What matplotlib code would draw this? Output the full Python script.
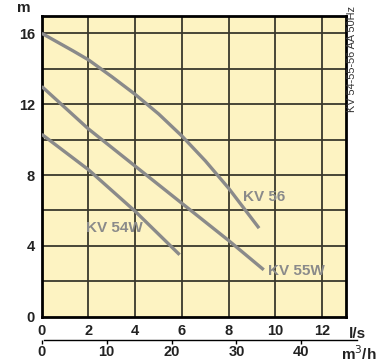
import matplotlib.pyplot as plt

# flow (l/s) and head (m)
q_56 = [0, 1.35, 2, 3, 4, 5, 6, 7, 8, 9.3]
h_56 = [16.0, 15.0, 14.5, 13.55, 12.55, 11.45, 10.2, 8.8, 7.25, 5.0]

q_55w = [0, 2, 4, 6, 8, 9.5]
h_55w = [13.0, 10.6, 8.5, 6.4, 4.3, 2.65]

q_54w = [0, 2, 4, 5.9]
h_54w = [10.3, 8.3, 5.95, 3.5]

labels = ["KV 56", "KV 55W", "KV 54W"]
label_pos = [(8.62, 6.75), (9.68, 2.6), (1.9, 5.0)]

plt.rcParams['font.family'] = ['Liberation Sans', 'DejaVu Sans']

fig = plt.figure(figsize=(3.9, 3.62), dpi=100)
ax = fig.add_axes([0.107, 0.125, 0.779, 0.832])
ax.set_facecolor('#fdf3c2')

ax.set_xlim(0, 13)
ax.set_ylim(0, 17)

for x in range(2, 13, 2):
    ax.axvline(x, color='#3a382c', lw=1.3, zorder=1)
for y in range(2, 17, 2):
    ax.axhline(y, color='#3a382c', lw=1.3, zorder=1)

curve_col = '#8a8a8a'
for q, h in [(q_56, h_56), (q_55w, h_55w), (q_54w, h_54w)]:
    ax.plot(q, h, color=curve_col, lw=2.4, solid_capstyle='butt', zorder=3)

for lab, (x, y) in zip(labels, label_pos):
    ax.text(x, y, lab, color=curve_col, fontsize=11, fontweight='bold',
            ha='left', va='center', zorder=4)

for s in ax.spines.values():
    s.set_linewidth(2)
    s.set_color('black')

ax.set_xticks(range(0, 13, 2))
ax.set_yticks([0, 4, 8, 12, 16])
ax.tick_params(length=0, labelsize=10.5, pad=5)
for t in ax.get_xticklabels() + ax.get_yticklabels():
    t.set_fontweight('bold')
    t.set_color('#222222')

ax.text(13.15, -0.97, "l/s", fontsize=11, fontweight='bold', ha='left', va='center',
        color='#222222', clip_on=False)
ax.text(-0.75, 17.45, "m", fontsize=11, fontweight='bold', ha='center', va='center',
        color='#222222', clip_on=False)

sec = ax.secondary_xaxis(-0.077, functions=(lambda q: q * 3.6, lambda m: m / 3.6))
sec.set_xticks([0, 10, 20, 30, 40])
sec.tick_params(direction='out', length=3, width=1, labelsize=10.5, pad=1)
for t in sec.get_xticklabels():
    t.set_fontweight('bold')
    t.set_color('#222222')
sec.spines['bottom'].set_bounds(0.3, 48.5)
sec.spines['bottom'].set_linewidth(1)
ax.text(13.55, -2.1, "m$^3$/h", fontsize=11, fontweight='bold', ha='center', va='center',
        color='#222222', clip_on=False)

fig.text(0.903, 0.838, "KV 54-55-56 AA 50Hz", rotation=90, fontsize=7.8,
         ha='center', va='center', color='#333333')

fig.savefig("out.png", dpi=100)
